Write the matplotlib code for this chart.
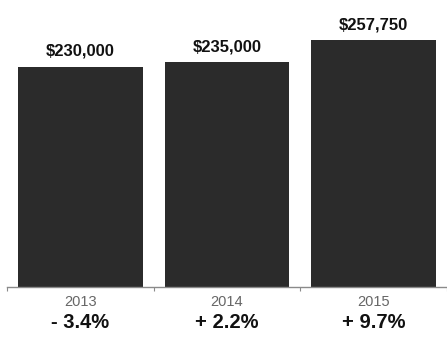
import matplotlib
matplotlib.use("Agg")
import matplotlib.pyplot as plt
from matplotlib.transforms import blended_transform_factory

years = ["2013", "2014", "2015"]
values = [230000, 235000, 257750]
value_labels = ["$230,000", "$235,000", "$257,750"]
changes = ["- 3.4%", "+ 2.2%", "+ 9.7%"]

plt.rcParams['font.family'] = ['Liberation Sans', 'DejaVu Sans']

fig = plt.figure(figsize=(4.47, 3.39), dpi=100)
W, H = 447, 339
left, right, bottom, top = 7, 447, 52, 339
ax = fig.add_axes([left / W, bottom / H, (right - left) / W, (top - bottom) / H])

x = list(range(len(years)))
ax.bar(x, values, width=0.85, color="#2b2b2b", zorder=2)
ax.set_xlim(-0.5, -0.5 + (right - left) / 149.4)
ax.set_ylim(0, 300000)

for s in ["top", "right", "left"]:
    ax.spines[s].set_visible(False)
ax.spines["bottom"].set_color("#8a8a8a")
ax.spines["bottom"].set_linewidth(1.0)
ax.set_yticks([])

ax.set_xticks(x)
ax.set_xticklabels(years, color="#666666", fontsize=10.5)
ax.tick_params(axis="x", which="major", length=0, pad=6)
ax.set_xticks([-0.5, 0.5, 1.5, 2.5], minor=True)
ax.tick_params(axis="x", which="minor", length=3, color="#8a8a8a", width=0.8)

for xi, v, lab in zip(x, values, value_labels):
    ax.annotate(lab, (xi, v), xytext=(0, 8), textcoords="offset pixels",
                ha="center", va="bottom", fontsize=12, fontweight="bold", color="#111111")

trans = blended_transform_factory(ax.transData, ax.transAxes)
for xi, ch in zip(x, changes):
    ax.annotate(ch, (xi, 0), xycoords=trans, xytext=(0, -36), textcoords="offset pixels",
                ha="center", va="center", fontsize=14.5, fontweight="bold", color="#111111",
                annotation_clip=False)

fig.savefig("out.png", dpi=100)
